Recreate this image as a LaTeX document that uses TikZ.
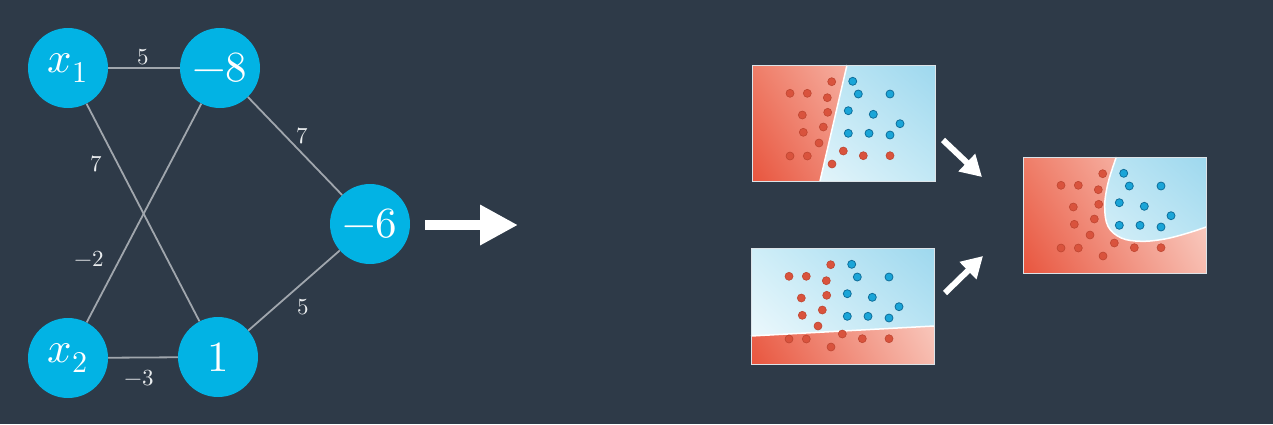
\documentclass[tikz,border=0pt]{standalone}
\usepackage{unicode-math}
\usetikzlibrary{arrows.meta,shadings}
\definecolor{bg}{HTML}{2E3A48}
\definecolor{nodeblue}{HTML}{02B3E4}
\definecolor{edgegray}{HTML}{A0A6AD}
\definecolor{labelcol}{HTML}{E9ECEE}
\definecolor{rLL}{HTML}{E8553E}
\definecolor{rUL}{HTML}{EF7D68}
\definecolor{rLR}{HTML}{F7BCAF}
\definecolor{rUR}{HTML}{FCDCD4}
\definecolor{bLL}{HTML}{F5FBFD}
\definecolor{bUL}{HTML}{CFEEF8}
\definecolor{bLR}{HTML}{C2E8F5}
\definecolor{bUR}{HTML}{9ED8EE}
\definecolor{reddot}{HTML}{D9533D}
\definecolor{reddotline}{HTML}{BE4631}
\definecolor{bluedot}{HTML}{1AA5D8}
\definecolor{bluedotline}{HTML}{0F6E9A}
\definecolor{framecol}{HTML}{DCE3E8}
\tikzset{
  neuron/.style={circle, fill=nodeblue, minimum size=80pt, inner sep=0pt, text=white,
    font=\fontsize{43}{50}\selectfont},
  wlabel/.style={text=labelcol, inner sep=0pt, font=\fontsize{23}{27}\selectfont},
  wire/.style={draw=edgegray, line width=1.8pt},
  bigarrow/.style={draw=white, line width=10pt, -{Triangle[length=38pt,width=38pt]}},
  smallarrow/.style={draw=white, line width=6pt, -{Triangle[length=21pt,width=23pt]}},
  plotframe/.style={draw=framecol, line width=1.3pt, minimum width=183pt, minimum height=116pt,
    inner sep=0pt, anchor=north west},
  rdot/.style={fill=reddot, draw=reddotline, line width=0.6pt},
  bdot/.style={fill=bluedot, draw=bluedotline, line width=0.8pt},
  redshade/.style={lower left=rLL, upper left=rUL, lower right=rLR, upper right=rUR},
  blueshade/.style={lower left=bLL, upper left=bUL, lower right=bLR, upper right=bUR}
}
\newcommand\plotdots{%
  \foreach \px/\py in {79.7/16.7, 38/28.3, 55.3/28.3, 75.3/32.7, 50.3/50, 75.7/47.3,
      71.3/62, 51.3/67.3, 67/78, 38/91, 55.3/91, 91.3/86, 111.3/90.7, 138/90.7, 80/99}
    {\path[rdot] (\px,\py) circle (4pt);}
  \foreach \px/\py in {100.7/16.3, 106.3/29, 138/29, 96.3/45.7, 121.3/49.3, 148/58.7,
      96.3/68.3, 117/68.3, 138/70}
    {\path[bdot] (\px,\py) circle (4pt);}
}
\begin{document}
\begin{tikzpicture}[x=1pt, y=-1pt]
\fill[bg] (0,0) rectangle (1273,424);
\useasboundingbox (0,0) rectangle (1273,424);

% network
\node[neuron] (x1) at (68,68) {$x_1$};
\node[neuron] (m8) at (220,68) {$-8$};
\node[neuron] (m6) at (370,224) {$-6$};
\node[neuron] (x2) at (68,358) {$x_2$};
\node[neuron] (one) at (218,357) {$1$};

\draw[wire] (x1) -- (m8);
\draw[wire] (x1) -- (one);
\draw[wire] (x2) -- (m8);
\draw[wire] (x2) -- (one);
\draw[wire] (m8) -- (m6);
\draw[wire] (one) -- (m6);

\node[wlabel] (w1) at (143,57) {$5$};
\node[wlabel] (w2) at (96,164) {$7$};
\node[wlabel] (w3) at (89,259) {$-2$};
\node[wlabel] (w4) at (139,378) {$-3$};
\node[wlabel] (w5) at (302,136) {$7$};
\node[wlabel] (w6) at (303,307) {$5$};

% big arrow
\coordinate (ba0) at (425,225);
\coordinate (ba1) at (518,225);
\draw[bigarrow] (ba0) -- (ba1);

% plot 1
\begin{scope}[shift={(752,65)}]
  \begin{scope}
    \clip (0,0) -- (95,0) -- (68,116) -- (0,116) -- cycle;
    \shade[redshade] (0,0) rectangle (183,116);
  \end{scope}
  \begin{scope}
    \clip (95,0) -- (183,0) -- (183,116) -- (68,116) -- cycle;
    \shade[blueshade] (0,0) rectangle (183,116);
  \end{scope}
  \draw[white, line width=1.5pt] (95,0) -- (68,116);
  \plotdots
\end{scope}
\node[plotframe] (p1) at (752,65) {};

% plot 2
\begin{scope}[shift={(751,248)}]
  \begin{scope}
    \clip (0,88) -- (183,78) -- (183,116) -- (0,116) -- cycle;
    \shade[redshade] (0,0) rectangle (183,116);
  \end{scope}
  \begin{scope}
    \clip (0,0) -- (183,0) -- (183,78) -- (0,88) -- cycle;
    \shade[blueshade] (0,0) rectangle (183,116);
  \end{scope}
  \draw[white, line width=1.5pt] (0,88) -- (183,78);
  \plotdots
\end{scope}
\node[plotframe] (p2) at (751,248) {};

% plot 3
\begin{scope}[shift={(1023,157)}]
  \shade[redshade] (0,0) rectangle (183,116);
  \begin{scope}
    \clip plot[smooth, tension=0.6] coordinates {(93.3,0) (85,26) (81.7,49.3) (85,69.3) (98.3,81) (118.3,84.3) (141.7,82) (165,76) (183,70)} -- (183,0) -- cycle;
    \shade[blueshade] (0,0) rectangle (183,116);
  \end{scope}
  \draw[white, line width=1.5pt] plot[smooth, tension=0.6] coordinates {(93.3,0) (85,26) (81.7,49.3) (85,69.3) (98.3,81) (118.3,84.3) (141.7,82) (165,76) (183,70)};
  \plotdots
\end{scope}
\node[plotframe] (p3) at (1023,157) {};

% small arrows
\coordinate (sa0) at (943,140);
\coordinate (sa1) at (982,177);
\coordinate (sb0) at (945,293);
\coordinate (sb1) at (983,256);
\draw[smallarrow] (sa0) -- (sa1);
\draw[smallarrow] (sb0) -- (sb1);
\end{tikzpicture}
\end{document}
